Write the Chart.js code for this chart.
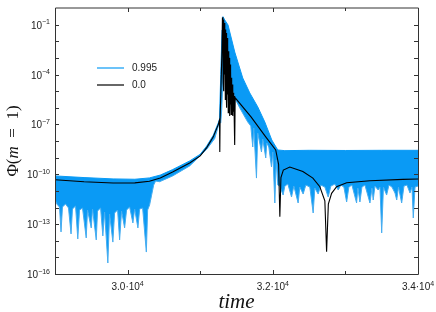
<!DOCTYPE html>
<html>
<head>
<meta charset="utf-8">
<script src="https://cdn.jsdelivr.net/npm/chart.js@4.4.0/dist/chart.umd.min.js"></script>
<style>
  html, body { margin: 0; padding: 0; background: #fff; }
</style>
</head>
<body>
<canvas id="chart" width="436" height="312"></canvas>
<script>
// series "0.0" (black) : time and log10 of the value
const blackT = [29000, 29400, 29800, 30100, 30300, 30450, 30620, 30855, 31000, 31090, 31180, 31250, 31266, 31270, 31274,
  31300, 31306, 31312, 31316, 31321, 31326, 31331, 31336, 31341, 31346, 31351, 31356, 31361, 31366, 31371, 31376, 31381,
  31386, 31391, 31396, 31401, 31406, 31411, 31416, 31421, 31426, 31431, 31436, 31441, 31446, 31451, 31456, 31461, 31466,
  31471, 31476, 31478, 31482, 31700, 31900, 32040, 32080, 32097, 32112, 32145, 32234, 32414, 32552, 32648,
  32717, 32741, 32765, 32810, 32879, 33017, 33338, 33793, 34000];
const blackExp = [-10.33, -10.45, -10.53, -10.52, -10.42, -10.22, -9.86, -9.32, -8.90, -8.40, -7.75, -7.00, -6.74, -8.66, -6.70,
  -2.5, -0.6, -0.55, -4.5, -0.7, -5.0, -0.9, -4.0, -1.0, -5.5, -1.3, -4.8, -1.5, -6.0, -1.8, -5.2, -2.2,
  -6.3, -2.6, -5.5, -3.0, -6.5, -3.4, -5.8, -3.8, -6.4, -4.2, -6.0, -4.6, -6.5, -4.9, -6.2, -5.1, -6.0,
  -5.3, -5.35, -8.24, -5.40, -6.55, -7.74, -8.54, -9.4, -12.55, -10.2, -9.75, -9.57, -9.84, -10.23, -10.75,
  -11.6, -14.66, -11.8, -11.15, -10.75, -10.51, -10.39, -10.31, -10.29];

// series "0.995" (blue) : upper edge of the oscillation band
const upperT = [29000, 29400, 29800, 30100, 30300, 30450, 30620, 30855, 31000, 31090, 31180, 31250, 31266, 31283, 31301,
  31314, 31338, 31383, 31476, 31586, 31683, 31793, 31890, 31986, 32069, 32166, 32500, 33000, 33500, 34000];
const upperExp = [-10.10, -10.20, -10.28, -10.30, -10.22, -10.05, -9.72, -9.20, -8.80, -8.30, -7.65, -6.90, -6.68, -4.0, -1.32,
  -0.52, -0.72, -1.02, -2.65, -4.21, -5.11, -5.95, -6.86, -7.94, -8.54, -8.58, -8.56, -8.57, -8.56, -8.56];

// series "0.995" (blue) : lower edge of the band with its spikes
const lowerT = [29000, 29034, 29062, 29083, 29103, 29145, 29186, 29221, 29241, 29283, 29314, 29338, 29379, 29430, 29448,
  29499, 29517, 29568, 29586, 29628, 29659, 29683, 29728, 29752, 29797, 29821, 29862, 29890, 29917, 29959, 29986, 30028,
  30073, 30097, 30142, 30166, 30207, 30258, 30276, 30303, 30331, 30359, 30386, 30441, 30621, 30855, 31090, 31200, 31266,
  31283, 31296, 31324, 31379, 31434, 31489, 31545, 31600, 31655, 31697, 31724, 31738, 31775, 31793, 31844, 31862, 31903,
  31917, 31945, 31982, 32000, 32028, 32048, 32069, 32097, 32142, 32166, 32207, 32258, 32290, 32349, 32372, 32418, 32455,
  32510, 32556, 32579, 32625, 32662, 32717, 32763, 32800, 32855, 32901, 32938, 32979, 33017, 33048, 33090, 33154, 33172,
  33200, 33228, 33269, 33338, 33366, 33383, 33407, 33452, 33476, 33500, 33524, 33568, 33600, 33641, 33683, 33707, 33731,
  33775, 33807, 33848, 33890, 33917, 33935, 33959, 34000];
const lowerExp = [-11.55, -11.85, -11.97, -13.47, -11.97, -11.79, -12.03, -13.59, -12.09, -11.91, -13.89, -12.15, -12.03, -13.83, -12.15,
  -13.23, -12.09, -13.95, -12.21, -12.03, -13.71, -12.27, -15.34, -12.39, -14.08, -12.33, -12.15, -13.95, -12.21, -13.23, -12.15, -11.97,
  -12.93, -12.09, -13.23, -12.09, -12.03, -14.68, -12.15, -11.85, -11.25, -10.65, -10.41, -10.45, -10.1, -9.5, -8.5, -7.85, -6.85,
  -6.92, -6.14, -3.13, -4.03, -4.81, -5.53, -6.01, -6.44, -6.86, -7.10, -8.36, -7.22, -10.23, -7.52, -8.66, -7.88, -9.02,
  -8.12, -8.36, -9.56, -8.66, -11.73, -9.14, -10.65, -10.71, -11.25, -10.71, -10.59, -11.37, -10.71, -11.73, -10.77, -11.19, -10.65,
  -10.77, -12.33, -10.83, -11.19, -10.65, -10.77, -11.37, -10.71, -10.59, -10.95, -10.65, -10.77, -11.67, -10.77, -10.65, -11.73, -10.83,
  -11.67, -10.77, -10.65, -11.73, -10.83, -11.55, -10.71, -10.95, -10.77, -13.53, -10.77, -11.25, -10.65, -10.77, -11.13, -11.55, -10.77,
  -11.73, -10.71, -10.65, -11.13, -10.77, -12.63, -10.77, -10.71];

const seriesNames = ['0.995', '0.0'];
const xTickValues = [29000, 30000, 31000, 32000, 33000, 34000];
const xLabelValues = [30000, 32000, 34000];
const yTickExps = [-16, -15, -14, -13, -12, -11, -10, -9, -8, -7, -6, -5, -4, -3, -2, -1];
const yLabelExps = [-16, -13, -10, -7, -4, -1];

const BLUE = '#0a9af5';
const SPIKE = '#45acf0';

function toPoints(ts, exps) {
  return ts.map((t, i) => ({ x: t, y: Math.pow(10, exps[i]) }));
}

function supText(n) {
  return String(n).replace('-', '\u2212');
}

// draws base with a raised exponent, right edge or centre given
function drawPower(ctx, base, exp, x, y, align) {
  ctx.font = '10px "Liberation Sans"';
  const wb = ctx.measureText(base).width;
  ctx.font = '7px "Liberation Sans"';
  const we = ctx.measureText(exp).width;
  const total = wb + we;
  let x0 = align === 'right' ? x - total : x - total / 2;
  ctx.textAlign = 'left';
  ctx.textBaseline = 'alphabetic';
  ctx.font = '10px "Liberation Sans"';
  ctx.fillText(base, x0, y + 4);
  ctx.font = '7px "Liberation Sans"';
  ctx.fillText(exp, x0 + wb, y - 0.5);
}

const framePlugin = {
  id: 'frame',
  afterDraw(chart) {
    const { ctx, chartArea: a } = chart;
    const xs = chart.scales.x, ys = chart.scales.y;
    ctx.save();
    ctx.strokeStyle = '#333';
    ctx.lineWidth = 1;
    ctx.beginPath();
    ctx.moveTo(a.left + 0.5, a.top);
    ctx.lineTo(a.left + 0.5, a.bottom + 0.5);
    ctx.lineTo(a.right + 0.5, a.bottom + 0.5);
    ctx.lineTo(a.right + 0.5, a.top);
    ctx.lineTo(a.left + 0.5, a.top);
    ctx.stroke();

    // inward tick marks on all four sides
    ctx.beginPath();
    xTickValues.forEach(v => {
      const px = Math.round(xs.getPixelForValue(v)) + 0.5;
      const len = xLabelValues.includes(v) ? 4 : 3;
      ctx.moveTo(px, a.bottom);
      ctx.lineTo(px, a.bottom - len);
      ctx.moveTo(px, a.top);
      ctx.lineTo(px, a.top + len);
    });
    yTickExps.forEach(e => {
      const py = Math.round(ys.getPixelForValue(Math.pow(10, e))) + 0.5;
      ctx.moveTo(a.left, py);
      ctx.lineTo(a.left + 4, py);
      ctx.moveTo(a.right, py);
      ctx.lineTo(a.right - 4, py);
    });
    ctx.stroke();

    // tick labels
    ctx.fillStyle = '#222';
    yLabelExps.forEach(e => {
      const py = ys.getPixelForValue(Math.pow(10, e));
      drawPower(ctx, '10', supText(e), a.left - 5, py, 'right');
    });
    xLabelValues.forEach(v => {
      const px = xs.getPixelForValue(v);
      drawPower(ctx, (v / 10000).toFixed(1) + '\u00b710', '4', px, a.bottom + 12, 'center');
    });

    // axis titles
    ctx.fillStyle = '#111';
    ctx.textBaseline = 'alphabetic';
    ctx.font = 'italic 21px "Liberation Serif"';
    ctx.textAlign = 'center';
    ctx.fillText('time', (a.left + a.right) / 2, 308);

    ctx.save();
    ctx.translate(18, (a.top + a.bottom) / 2);
    ctx.rotate(-Math.PI / 2);
    const parts = [
      ['\u03a6(', '17px "Liberation Serif"'],
      ['m', 'italic 17px "Liberation Serif"'],
      ['  =  1)', '17px "Liberation Serif"']
    ];
    let w = 0;
    parts.forEach(p => { ctx.font = p[1]; w += ctx.measureText(p[0]).width; });
    let cx = -w / 2;
    ctx.textAlign = 'left';
    parts.forEach(p => {
      ctx.font = p[1];
      ctx.fillText(p[0], cx, 0);
      cx += ctx.measureText(p[0]).width;
    });
    ctx.restore();

    // legend
    const legendColors = [BLUE, '#000'];
    ctx.font = '10px "Liberation Sans"';
    ctx.textBaseline = 'middle';
    ctx.textAlign = 'left';
    seriesNames.forEach((name, i) => {
      const ly = 68 + i * 17;
      ctx.strokeStyle = legendColors[i];
      ctx.lineWidth = 1.2;
      ctx.beginPath();
      ctx.moveTo(97, ly);
      ctx.lineTo(124, ly);
      ctx.stroke();
      ctx.fillStyle = '#222';
      ctx.fillText(name, 132, ly);
    });
    ctx.restore();
  }
};

new Chart(document.getElementById('chart'), {
  type: 'line',
  data: {
    datasets: [
      {
        label: seriesNames[1],
        data: toPoints(blackT, blackExp),
        borderColor: '#000',
        borderWidth: 1.1,
        pointRadius: 0,
        fill: false
      },
      {
        label: seriesNames[0] + ' low',
        data: toPoints(lowerT, lowerExp),
        borderColor: SPIKE,
        borderWidth: 1,
        pointRadius: 0,
        fill: false
      },
      {
        label: seriesNames[0],
        data: toPoints(upperT, upperExp),
        borderColor: BLUE,
        backgroundColor: BLUE,
        borderWidth: 1,
        pointRadius: 0,
        fill: 1
      }
    ]
  },
  options: {
    responsive: false,
    animation: false,
    devicePixelRatio: 1,
    layout: { padding: { left: 0, top: 8, right: 18, bottom: 0 } },
    elements: { line: { tension: 0 } },
    plugins: { legend: { display: false }, tooltip: { enabled: false } },
    scales: {
      x: {
        type: 'linear',
        min: 29000,
        max: 34000,
        grid: { display: false },
        border: { display: false },
        ticks: { display: false },
        afterFit: s => { s.height = 38; }
      },
      y: {
        type: 'logarithmic',
        min: 1e-16,
        max: 1,
        grid: { display: false },
        border: { display: false },
        ticks: { display: false },
        afterBuildTicks: s => { s.ticks = yTickExps.map(e => ({ value: Math.pow(10, e) })); },
        afterFit: s => { s.width = 55; }
      }
    }
  },
  plugins: [framePlugin]
});
</script>
</body>
</html>
